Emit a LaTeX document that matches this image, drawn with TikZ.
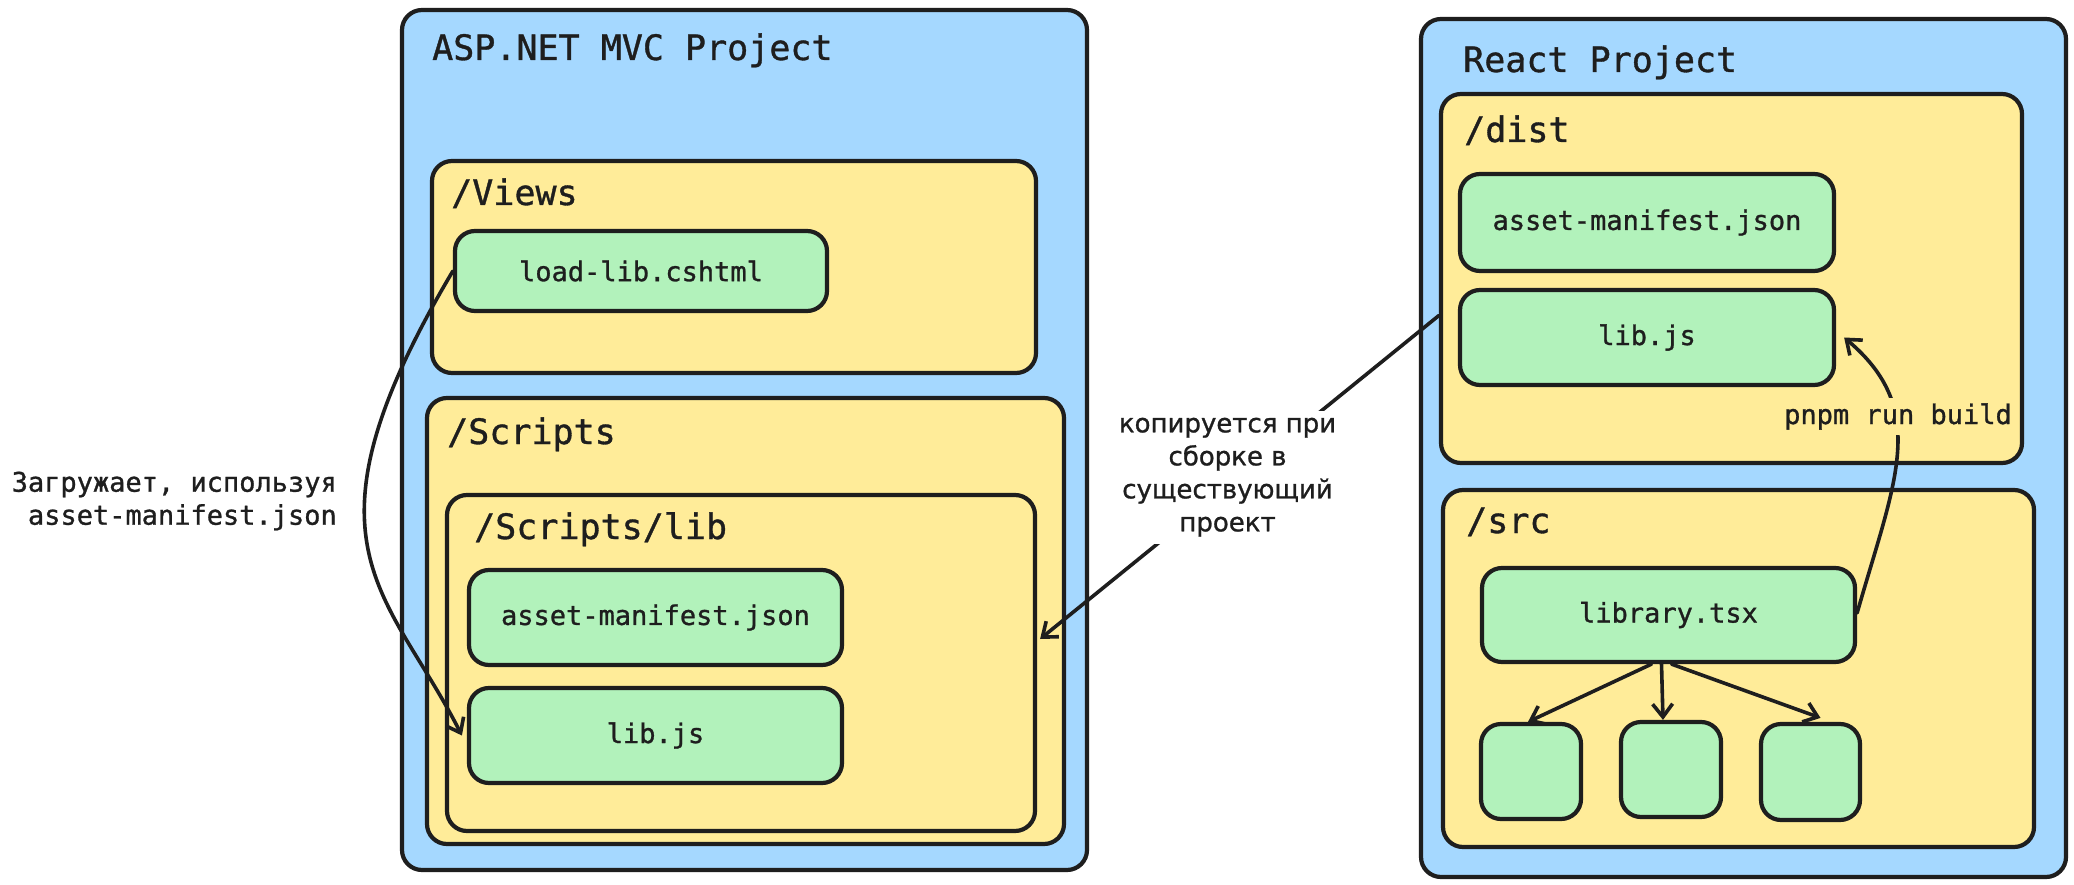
\documentclass[tikz,border=0pt]{standalone}
\usepackage{fontspec}
\setmainfont{DejaVu Sans Mono}[FakeBold=1]
\newfontfamily\lblsans{DejaVu Sans}[FakeBold=1]
\usetikzlibrary{arrows.meta}
\definecolor{bxblue}{HTML}{A5D8FF}
\definecolor{bxyellow}{HTML}{FFEC99}
\definecolor{bxgreen}{HTML}{B2F2BB}
\definecolor{ink}{HTML}{1E1E1E}
\begin{document}
\begin{tikzpicture}[x=1pt,y=-1pt,
  box/.style={draw=ink, line width=4.2pt, rounded corners=20pt, inner sep=0pt},
  bluebox/.style={box, fill=bxblue},
  yellowbox/.style={box, fill=bxyellow},
  greenbox/.style={box, fill=bxgreen, font=\fontsize{27}{33}\selectfont, text=ink},
  head/.style={inner sep=0pt, anchor=base west, text=ink, font=\fontsize{35}{42}\selectfont},
  lbl/.style={inner sep=0pt, text=ink, font=\fontsize{27}{33}\selectfont},
  conn/.style={draw=ink, line width=3.6pt, line cap=round, -{Straight Barb[length=13pt,width=20pt,line width=3.6pt]}}
]
\useasboundingbox (0,0) rectangle (2074,885);
\fill[white] (0,0) rectangle (2074,885);

% ASP.NET side
\node[bluebox, minimum width=685pt, minimum height=860pt] (asp) at (744.5,440) {};
\node[head] (asptitle) at (432,60) {ASP.NET MVC Project};
\node[yellowbox, minimum width=604pt, minimum height=212pt] (views) at (734,267) {};
\node[head] (viewstitle) at (451,205) {/Views};
\node[greenbox, minimum width=372pt, minimum height=80pt] (ll) at (641,271) {load-lib.cshtml};
\node[yellowbox, minimum width=637pt, minimum height=446pt] (scripts) at (745.5,621) {};
\node[head] (scriptstitle) at (447,444) {/Scripts};
\node[yellowbox, minimum width=588pt, minimum height=336pt] (slib) at (741,663) {};
\node[head] (slibtitle) at (474,539) {/Scripts/lib};
\node[greenbox, minimum width=373pt, minimum height=95pt] (lam) at (655.5,617.5) {asset-manifest.json};
\node[greenbox, minimum width=373pt, minimum height=95pt] (ljs) at (655.5,735.5) {lib.js};

% React side
\node[bluebox, minimum width=645pt, minimum height=858pt] (react) at (1743.5,448) {};
\node[head] (reacttitle) at (1463,72) {React Project};
\node[yellowbox, minimum width=581pt, minimum height=369pt] (dist) at (1731.5,278.5) {};
\node[head] (disttitle) at (1464,142) {/dist};
\node[greenbox, minimum width=374pt, minimum height=97pt] (ram) at (1647,222.5) {asset-manifest.json};
\node[greenbox, minimum width=374pt, minimum height=95pt] (rjs) at (1647,337.5) {lib.js};
\node[yellowbox, minimum width=591pt, minimum height=357pt] (src) at (1738.5,668.5) {};
\node[head] (srctitle) at (1466,533) {/src};
\node[greenbox, minimum width=373pt, minimum height=94pt] (ltsx) at (1668.5,615) {library.tsx};
\node[greenbox, minimum width=100pt, minimum height=95pt] (s1) at (1531,771.5) {};
\node[greenbox, minimum width=100pt, minimum height=95pt] (s2) at (1671,769.5) {};
\node[greenbox, minimum width=99pt, minimum height=96pt] (s3) at (1810.5,772) {};

% connectors
\draw[conn] (ll.west) .. controls (290,545) and (388,590) .. ([xshift=-5pt]ljs.west);
\draw[conn] ([yshift=-37pt]dist.west) -- node[lbl, fill=white, inner sep=7pt, align=center, font=\lblsans\fontsize{26}{33}\selectfont, xshift=-12pt] (copylbl) {копируется при\\сборке в\\существующий\\проект} ([xshift=3pt,yshift=24pt]slib.east);
\draw[conn] ([yshift=2pt]ltsx.east) .. controls (1895,480) and (1930,410) .. ([xshift=8pt]rjs.east);
\node[lbl, fill=bxyellow, inner xsep=2pt, inner ysep=5pt] (pnpmlbl) at (1898,416.5) {pnpm run build};
\draw[conn] ([xshift=-17pt]ltsx.south) -- ([xshift=-3pt]s1.north);
\draw[conn] ([xshift=-7pt]ltsx.south) -- ([xshift=-8pt]s2.north);
\draw[conn] ([xshift=3pt]ltsx.south) -- ([xshift=10pt,yshift=4pt]s3.north);

% left label
\node[lbl, align=right, anchor=east] (loadlbl) at (337,501) {Загружает, используя\\asset-manifest.json};
\end{tikzpicture}
\end{document}
